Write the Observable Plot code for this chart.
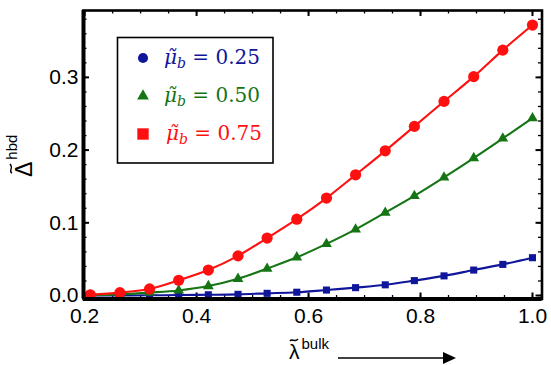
<!DOCTYPE html>
<html><head><meta charset="utf-8">
<script src="https://cdn.jsdelivr.net/npm/d3@7"></script>
<script src="https://cdn.jsdelivr.net/npm/@observablehq/plot@0.6"></script>
<style>
html,body{margin:0;padding:0;background:#fff;}
#wrap{position:relative;width:551px;height:365px;overflow:hidden;background:#fff;}
#wrap svg{position:absolute;left:0;top:0;}
</style></head><body><div id="wrap"></div>
<script>
// ---- data ----
const lambdaBulk = [0.21,0.263,0.316,0.368,0.421,0.474,0.526,0.579,0.632,0.684,0.737,0.789,0.842,0.895,0.947,1.0];
const deltaMu025 = [0.0,0.0,0.0003,0.0006,0.001,0.0016,0.003,0.0045,0.0075,0.0108,0.0147,0.0205,0.027,0.035,0.0428,0.052];
const deltaMu050 = [0.0005,0.0015,0.004,0.007,0.013,0.023,0.037,0.0525,0.071,0.091,0.114,0.137,0.1625,0.189,0.216,0.244];
const deltaMu075 = [0.001,0.004,0.009,0.021,0.035,0.0545,0.079,0.105,0.134,0.166,0.199,0.2326,0.267,0.301,0.3375,0.372];
const seriesNames = ["0.25","0.50","0.75"];
const seriesColors = ["#10169a","#157515","#ff1010"];
const plotSymbols = ["square","triangle","circle"];
const legendSymbols = ["circle","triangle","square"];
const xTickValues = [0.2,0.4,0.6,0.8,1.0];
const yTickValues = [0.0,0.1,0.2,0.3];

const seriesValues = [deltaMu025, deltaMu050, deltaMu075];
const series = seriesNames.map((name,k)=>lambdaBulk.map((x,i)=>({x, y: seriesValues[k][i], s: name})));

const W=551, H=365, mL=83, mR=9.5, mT=10, mB=66.5;
const plotW = W-mL-mR, plotH = H-mT-mB;
const xDom = [0.198, 1.017], yDom = [-0.0048, 0.392];
const xMinor = d3.range(4, 21).map(i=>i*0.05).filter(v=>v>=xDom[0]&&v<=xDom[1]);
const yMinor = d3.range(0, 20).map(i=>i*0.02).filter(v=>v>=yDom[0]&&v<=yDom[1]);
const majLen = 6, minLen = 3.5;

const marks = [];
// ticks (inward, all four sides)
marks.push(Plot.tickX(xMinor, {x:d=>d, stroke:"black", strokeWidth:1.3, insetTop: plotH-minLen}));
marks.push(Plot.tickX(xMinor, {x:d=>d, stroke:"black", strokeWidth:1.3, insetBottom: plotH-minLen}));
marks.push(Plot.tickX(xTickValues, {x:d=>d, stroke:"black", strokeWidth:2, insetTop: plotH-majLen}));
marks.push(Plot.tickX(xTickValues, {x:d=>d, stroke:"black", strokeWidth:2, insetBottom: plotH-majLen}));
marks.push(Plot.tickY(yMinor, {y:d=>d, stroke:"black", strokeWidth:1.3, insetRight: plotW-minLen}));
marks.push(Plot.tickY(yMinor, {y:d=>d, stroke:"black", strokeWidth:1.3, insetLeft: plotW-minLen}));
marks.push(Plot.tickY(yTickValues, {y:d=>d, stroke:"black", strokeWidth:2, insetRight: plotW-majLen}));
marks.push(Plot.tickY(yTickValues, {y:d=>d, stroke:"black", strokeWidth:2, insetLeft: plotW-majLen}));
// series
series.forEach((data,k)=>{
  marks.push(Plot.line(data, {x:"x", y:"y", stroke: seriesColors[k], strokeWidth:2.1, curve:"catmull-rom"}));
});
const dotR = [4, 4, 5.6];
series.forEach((data,k)=>{
  marks.push(Plot.dot(data, {x:"x", y:"y", fill: seriesColors[k], symbol: plotSymbols[k], r: dotR[k], stroke:"none"}));
});
// frame
marks.push(Plot.frame({stroke:"black", strokeWidth:2.6}));
marks.push(Plot.ruleX([xDom[0]], {stroke:"black", strokeWidth:4}));
marks.push(Plot.ruleY([yDom[0]], {stroke:"black", strokeWidth:4}));
// tick labels
marks.push(Plot.text(xTickValues, {x:d=>d, text:d=>d3.format(".1f")(d), frameAnchor:"bottom", lineAnchor:"top", dy:9, fontSize:21, fill:"black"}));
marks.push(Plot.text(yTickValues, {y:d=>d, text:d=>d3.format(".1f")(d), frameAnchor:"left", textAnchor:"end", dx:-5, fontSize:21, fill:"black"}));

const chart = Plot.plot({
  width: W, height: H,
  marginLeft: mL, marginRight: mR, marginTop: mT, marginBottom: mB,
  x: {domain: xDom, axis: null},
  y: {domain: yDom, axis: null},
  style: {fontFamily: "'Liberation Sans', Arial, sans-serif", background: "white", color: "black", overflow: "visible"},
  marks
});
const wrap = document.getElementById("wrap");
wrap.appendChild(chart);

// ---- overlay: legend, axis titles, arrow ----
const ov = d3.select(wrap).append("svg").attr("width", W).attr("height", H).style("pointer-events","none");
const lg = ov.append("g");
lg.append("rect").attr("x",117.5).attr("y",37.5).attr("width",155.5).attr("height",125.5)
  .attr("fill","white").attr("stroke","black").attr("stroke-width",1.6);
const legendRows = [58, 96, 134];
const legendBase = [64, 102, 140];
const symSize = {circle: 80, triangle: 60, square: 130};
seriesNames.forEach((name,k)=>{
  const sym = legendSymbols[k];
  const type = sym==="circle"?d3.symbolCircle:sym==="triangle"?d3.symbolTriangle:d3.symbolSquare;
  lg.append("path").attr("d", d3.symbol(type, symSize[sym])())
    .attr("transform", `translate(143,${legendRows[k]})`).attr("fill", seriesColors[k]);
  const t = lg.append("text").attr("x", 164 + (k===2?2:0)).attr("y", legendBase[k])
    .attr("fill", seriesColors[k]).style("font-family","'DejaVu Serif', serif").style("font-size","20px");
  t.append("tspan").style("font-style","italic").text("\u03BC\u0303");
  t.append("tspan").style("font-style","italic").style("font-size","14px").attr("dy",4).text("b");
  t.append("tspan").attr("dy",-4).text(" = " + name);
});

// y title (rotated): Δ with tilde, superscript hbd
const yg = ov.append("g").attr("transform","translate(32,177) rotate(-90)");
const yt = yg.append("text").attr("x",0).attr("y",0)
  .style("font-family","'Liberation Sans', Arial, sans-serif").style("font-size","23px").attr("fill","black");
yt.append("tspan").text("\u0394");
yt.append("tspan").style("font-size","15px").attr("dy",-15).attr("dx",2).text("hbd");
yg.append("path").attr("d","M4,-20 C6,-24 9,-18 13,-22").attr("fill","none").attr("stroke","black").attr("stroke-width",1.4);

// x title: λ with tilde, superscript bulk
const xt = ov.append("text").attr("x",289).attr("y",359)
  .style("font-family","'Liberation Sans', Arial, sans-serif").style("font-size","21px").attr("fill","black");
xt.append("tspan").text("\u03BB");
xt.append("tspan").style("font-size","15px").attr("dy",-10).attr("dx",2).text("bulk");
ov.append("path").attr("d","M290,341 C292,338 295,343 298,339").attr("fill","none").attr("stroke","black").attr("stroke-width",1.4);

// arrow
ov.append("line").attr("x1",338).attr("x2",446).attr("y1",358).attr("y2",358).attr("stroke","black").attr("stroke-width",1.5);
ov.append("path").attr("d","M443,352 L456,358 L443,364 Z").attr("fill","black");
</script></body></html>
